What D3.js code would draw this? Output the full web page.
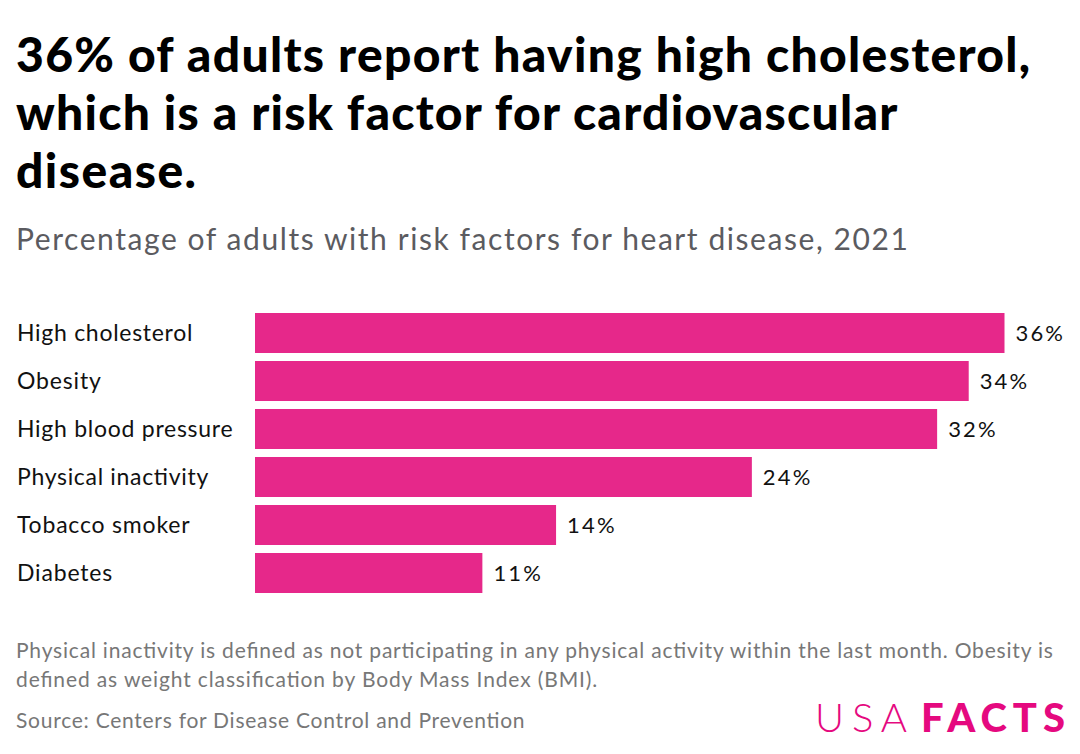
<!DOCTYPE html>
<html>
<head>
<meta charset="utf-8">
<script src="https://cdn.jsdelivr.net/npm/d3@7"></script>
<style>
  html, body { margin: 0; padding: 0; background: #fff; }
  svg { display: block; font-family: Lato, "Noto Sans", sans-serif; }
</style>
</head>
<body>
<svg id="chart" width="1080" height="754"></svg>
<script>
const titleLines = [
  "36% of adults report having high cholesterol,",
  "which is a risk factor for cardiovascular",
  "disease."
];
const subtitle = "Percentage of adults with risk factors for heart disease, 2021";
const categories = ["High cholesterol", "Obesity", "High blood pressure", "Physical inactivity", "Tobacco smoker", "Diabetes"];
const values = [35.6, 33.9, 32.4, 23.6, 14.3, 10.8];
const noteLines = [
  "Physical inactivity is defined as not participating in any physical activity within the last month. Obesity is",
  "defined as weight classification by Body Mass Index (BMI)."
];
const source = "Source: Centers for Disease Control and Prevention";

const svg = d3.select("#chart");

// widen Lato glyph runs to match the reference's wider face
function stretch(sel, f) {
  sel.each(function () {
    const w = this.getComputedTextLength();
    d3.select(this).attr("textLength", w * f).attr("lengthAdjust", "spacing");
  });
}

// Title
svg.append("g").selectAll("text").data(titleLines).join("text")
  .attr("x", 16)
  .attr("y", (d, i) => 72 + i * 58)
  .attr("font-size", 48)
  .attr("font-weight", 900)
  .attr("fill", "#000")
  .text(d => d)
  .call(stretch, 1.06);

// Subtitle
svg.append("text")
  .attr("x", 16).attr("y", 250)
  .attr("font-size", 30)
  .attr("fill", "#5b5b60")
  .text(subtitle)
  .call(stretch, 1.12);

// Scales
const x = d3.scaleLinear().domain([0, values[0]]).range([255, 1004.5]);
const y = d3.scaleBand().domain(categories).range([313, 593]).paddingInner(8 / 48).paddingOuter(0);

const data = categories.map((c, i) => ({ c, v: values[i] }));

svg.append("g").selectAll("rect").data(data).join("rect")
  .attr("x", x(0))
  .attr("y", d => y(d.c))
  .attr("width", d => x(d.v) - x(0))
  .attr("height", y.bandwidth())
  .attr("fill", "#e6288a");

// Category labels
svg.append("g").selectAll("text").data(data).join("text")
  .attr("x", 17)
  .attr("y", d => y(d.c) + y.bandwidth() / 2)
  .attr("dy", "0.35em")
  .attr("font-size", 23)
  .attr("fill", "#111")
  .text(d => d.c)
  .call(stretch, 1.065);

// Value labels
svg.append("g").selectAll("text").data(data).join("text")
  .attr("x", d => x(d.v) + 11)
  .attr("y", d => y(d.c) + y.bandwidth() / 2)
  .attr("dy", "0.36em")
  .attr("font-size", 22)
  .attr("fill", "#111")
  .text(d => Math.round(d.v) + "%")
  .call(stretch, 1.1);

// Notes
svg.append("g").selectAll("text").data(noteLines).join("text")
  .attr("x", 16)
  .attr("y", (d, i) => 658 + i * 29)
  .attr("font-size", 21)
  .attr("fill", "#777")
  .text(d => d)
  .call(stretch, 1.088);

svg.append("text")
  .attr("x", 16).attr("y", 728)
  .attr("font-size", 21)
  .attr("fill", "#777")
  .text(source)
  .call(stretch, 1.075);

// Logo
svg.append("text")
  .attr("x", 815).attr("y", 732)
  .attr("font-size", 40)
  .attr("font-weight", 300)
  .attr("fill", "#e5097f")
  .attr("textLength", 92).attr("lengthAdjust", "spacing")
  .text("USA");
svg.append("text")
  .attr("x", 921).attr("y", 732)
  .attr("font-size", 40)
  .attr("font-weight", 900)
  .attr("fill", "#e5097f")
  .attr("textLength", 144).attr("lengthAdjust", "spacing")
  .text("FACTS");
</script>
</body>
</html>
